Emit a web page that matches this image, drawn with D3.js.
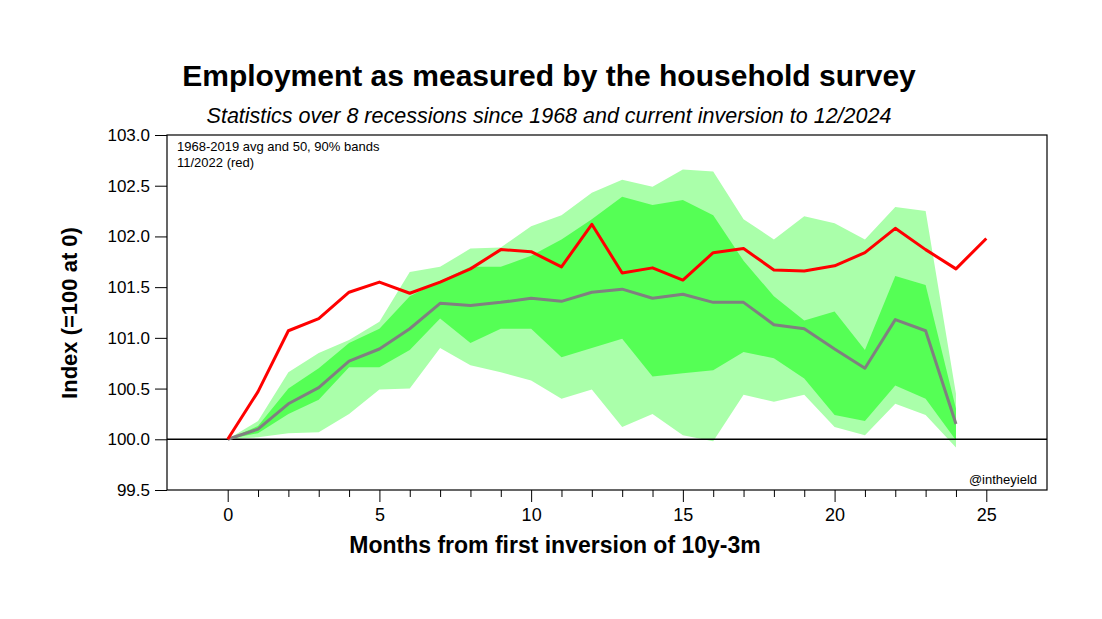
<!DOCTYPE html>
<html>
<head>
<meta charset="utf-8">
<script src="https://cdn.jsdelivr.net/npm/d3@7"></script>
<style>
  html, body { margin: 0; padding: 0; background: #fff; }
  svg { display: block; font-family: "Liberation Sans", Arial, sans-serif; }
</style>
</head>
<body>
<svg id="chart" width="1102" height="619"></svg>
<script>
// ---- data ----
const bandMonths = [0,1,2,3,4,5,6,7,8,9,10,11,12,13,14,15,16,17,18,19,20,21,22,23,24];
const redMonths  = [0,1,2,3,4,5,6,7,8,9,10,11,12,13,14,15,16,17,18,19,20,21,22,23,24,25];
const current2022 = [100.00,100.47,101.07,101.19,101.45,101.55,101.44,101.55,101.68,101.87,101.85,101.70,102.12,101.64,101.69,101.57,101.84,101.88,101.67,101.66,101.71,101.84,102.08,101.87,101.68,101.98];
const average = [100.00,100.10,100.35,100.51,100.77,100.89,101.09,101.34,101.32,101.35,101.39,101.36,101.45,101.48,101.39,101.43,101.35,101.35,101.13,101.09,100.89,100.70,101.18,101.07,100.15];
const p95 = [100.00,100.18,100.66,100.85,100.98,101.16,101.65,101.70,101.88,101.89,102.10,102.21,102.43,102.56,102.49,102.66,102.64,102.17,101.97,102.20,102.13,101.97,102.29,102.25,100.45];
const p75 = [100.00,100.13,100.50,100.70,100.95,101.09,101.41,101.56,101.70,101.70,101.81,101.97,102.17,102.39,102.31,102.36,102.21,101.76,101.41,101.17,101.26,100.88,101.61,101.52,100.30];
const p25 = [100.00,100.06,100.25,100.39,100.71,100.71,100.88,101.19,100.95,101.09,101.09,100.81,100.90,100.99,100.62,100.65,100.68,100.86,100.80,100.60,100.24,100.18,100.53,100.40,99.99];
const p5  = [100.00,100.02,100.06,100.07,100.25,100.49,100.50,100.90,100.73,100.66,100.58,100.40,100.49,100.12,100.25,100.04,99.98,100.44,100.37,100.44,100.12,100.04,100.35,100.24,99.92];
const yTicks = [99.5,100.0,100.5,101.0,101.5,102.0,102.5,103.0];
const xMajorTicks = [0,5,10,15,20,25];
const xMinorTicks = [1,2,3,4,6,7,8,9,11,12,13,14,16,17,18,19,21,22,23,24];

const titleText = "Employment as measured by the household survey";
const subtitleText = "Statistics over 8 recessions since 1968 and current inversion to 12/2024";
const xTitle = "Months from first inversion of 10y-3m";
const yTitle = "Index (=100 at 0)";
const note1 = "1968-2019 avg and 50, 90% bands";
const note2 = "11/2022 (red)";
const credit = "@intheyield";

// ---- layout ----
const svg = d3.select("#chart");
const L = 167, R = 1047, T = 135, B = 490;
const x = d3.scaleLinear().domain([-2, 27]).range([L, R]);
const y = d3.scaleLinear().domain([99.5, 103]).range([B, T]);

// bands
const bandRows = bandMonths.map((m, i) => ({m, lo5: p5[i], hi95: p95[i], lo25: p25[i], hi75: p75[i], avg: average[i]}));
const light = d3.area().x(d => x(d.m)).y0(d => y(d.lo5)).y1(d => y(d.hi95));
const dark  = d3.area().x(d => x(d.m)).y0(d => y(d.lo25)).y1(d => y(d.hi75));

svg.append("path").datum(bandRows).attr("d", light).attr("fill", "#aaffaa");
svg.append("path").datum(bandRows).attr("d", dark).attr("fill", "#55ff55");

// baseline at 100
svg.append("line").attr("x1", L).attr("x2", R).attr("y1", y(100)).attr("y2", y(100))
  .attr("stroke", "#000").attr("stroke-width", 1.5);

// average line
svg.append("path").datum(bandRows)
  .attr("d", d3.line().x(d => x(d.m)).y(d => y(d.avg)))
  .attr("fill", "none").attr("stroke", "#808080").attr("stroke-width", 3).attr("stroke-linejoin", "round");

// current line
const redRows = redMonths.map((m, i) => ({m, v: current2022[i]}));
svg.append("path").datum(redRows)
  .attr("d", d3.line().x(d => x(d.m)).y(d => y(d.v)))
  .attr("fill", "none").attr("stroke", "#ff0000").attr("stroke-width", 3).attr("stroke-linejoin", "round");

// frame
svg.append("rect").attr("x", L).attr("y", T).attr("width", R - L).attr("height", B - T)
  .attr("fill", "none").attr("stroke", "#000").attr("stroke-width", 1.2);

// y axis
const yAxis = d3.axisLeft(y).tickValues(yTicks).tickFormat(d3.format(".1f")).tickSizeOuter(0).tickSize(12).tickPadding(5);
const gy = svg.append("g").attr("transform", `translate(${L},0)`).call(yAxis);
gy.select(".domain").remove();
gy.selectAll("text").attr("font-size", 17).attr("font-family", "Liberation Sans, Arial, sans-serif").attr("fill", "#000");
gy.selectAll("line").attr("stroke", "#000");

// x axis major
const xAxis = d3.axisBottom(x).tickValues(xMajorTicks).tickFormat(d3.format("d")).tickSizeOuter(0).tickSize(12).tickPadding(6);
const gx = svg.append("g").attr("transform", `translate(0,${B})`).call(xAxis);
gx.select(".domain").remove();
gx.selectAll("text").attr("font-size", 18).attr("font-family", "Liberation Sans, Arial, sans-serif").attr("fill", "#000");
gx.selectAll("line").attr("stroke", "#000");
// x axis minor
const xAxisMinor = d3.axisBottom(x).tickValues(xMinorTicks).tickFormat("").tickSizeOuter(0).tickSize(7);
const gxm = svg.append("g").attr("transform", `translate(0,${B})`).call(xAxisMinor);
gxm.select(".domain").remove();
gxm.selectAll("line").attr("stroke", "#000");

// titles
svg.append("text").attr("x", 549).attr("y", 86).attr("text-anchor", "middle")
  .attr("font-size", 30).attr("font-weight", "bold").text(titleText);
svg.append("text").attr("x", 549).attr("y", 123).attr("text-anchor", "middle")
  .attr("font-size", 21.5).attr("font-style", "italic").text(subtitleText);
svg.append("text").attr("x", 555).attr("y", 553).attr("text-anchor", "middle")
  .attr("font-size", 23).attr("font-weight", "bold").text(xTitle);
svg.append("text").attr("transform", "translate(77,313) rotate(-90)").attr("text-anchor", "middle")
  .attr("font-size", 22).attr("font-weight", "bold").text(yTitle);

// notes
svg.append("text").attr("x", 177).attr("y", 151).attr("font-size", 13).text(note1);
svg.append("text").attr("x", 177).attr("y", 167).attr("font-size", 13).text(note2);
svg.append("text").attr("x", 1037).attr("y", 484).attr("text-anchor", "end").attr("font-size", 13).text(credit);
</script>
</body>
</html>
